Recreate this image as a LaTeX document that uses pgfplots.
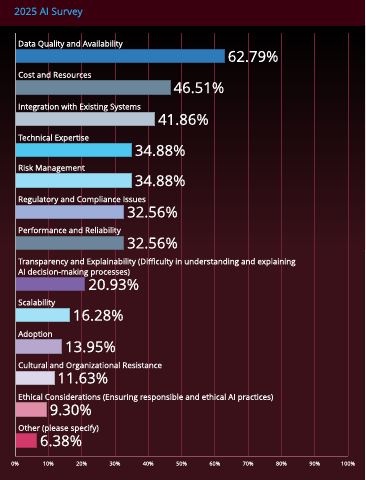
\documentclass[border=0pt]{standalone}
\usepackage{pgfplots}
\pgfplotsset{compat=1.18}
\usepackage{fontspec}
\setmainfont{Open Sans}
\newfontfamily\semib{Open Sans}[FakeBold=0.9]
\newfontfamily\medf{Open Sans}[FakeBold=0.4]
\definecolor{titlebar}{HTML}{3B0010}
\definecolor{bgm}{HTML}{3A1119}
\definecolor{gridc}{HTML}{72213C}
\definecolor{titlec}{HTML}{2A9FD8}
\definecolor{c1}{HTML}{2E7BBA}
\definecolor{c2}{HTML}{6A879C}
\definecolor{c3}{HTML}{B5C4D2}
\definecolor{c4}{HTML}{4DC6F0}
\definecolor{c5}{HTML}{98DDF6}
\definecolor{c6}{HTML}{9DAEDB}
\definecolor{c7}{HTML}{6C859A}
\definecolor{c8}{HTML}{7F63A8}
\definecolor{c9}{HTML}{A3E1F6}
\definecolor{c10}{HTML}{B6A7CF}
\definecolor{c11}{HTML}{DDD8E9}
\definecolor{c12}{HTML}{E08DAA}
\definecolor{c13}{HTML}{D2396B}
\begin{document}
\begin{tikzpicture}[x=1pt,y=1pt]
\fill[bgm] (0,0) rectangle (365,480);
\shade[top color=black, bottom color=bgm] (0,230) rectangle (365,454);
\fill[titlebar] (0,454) rectangle (365,480);
\node[anchor=west, inner sep=0, text=titlec, font=\semib\fontsize{10}{12}\selectfont] at (14,467.5) {2025 AI Survey};
\begin{axis}[
  at={(15pt,24pt)}, anchor=south west,
  scale only axis, width=333pt, height=423pt,
  xmin=0, xmax=100, ymin=33, ymax=456, y dir=reverse,
  xbar, bar width=13.3,
  axis line style={draw=none},
  ytick=\empty,
  xtick={0,10,...,100},
  xticklabel={\pgfmathprintnumber{\tick}\%},
  xticklabel style={text=white!80!gray, font=\semib\fontsize{5.5}{6}\selectfont, yshift=-2pt},
  /pgf/number format/assume math mode=true,
  major tick length=0pt,
  xmajorgrids, grid style={gridc, line width=0.8pt},
  point meta=x,
  nodes near coords={\pgfmathprintnumber[fixed,fixed zerofill,precision=2]{\pgfplotspointmeta}\%},
  nodes near coords style={text=white, font=\medf\fontsize{15}{15}\selectfont, inner xsep=3.5pt, anchor=west, yshift=-0.5pt},
  clip=false,
]
\addplot[fill=c1, draw=c1!80!black, bar shift=0pt] coordinates {(62.79,56)};
\addplot[fill=c2, draw=c2!80!black, bar shift=0pt] coordinates {(46.51,87.2)};
\addplot[fill=c3, draw=c3!80!black, bar shift=0pt] coordinates {(41.86,119)};
\addplot[fill=c4, draw=c4!80!black, bar shift=0pt] coordinates {(34.88,150)};
\addplot[fill=c5, draw=c5!80!black, bar shift=0pt] coordinates {(34.88,180.2)};
\addplot[fill=c6, draw=c6!80!black, bar shift=0pt] coordinates {(32.56,211.6)};
\addplot[fill=c7, draw=c7!80!black, bar shift=0pt] coordinates {(32.56,242.6)};
\addplot[fill=c8, draw=c8!80!black, bar shift=0pt] coordinates {(20.93,284)};
\addplot[fill=c9, draw=c9!80!black, bar shift=0pt] coordinates {(16.28,314.8)};
\addplot[fill=c10, draw=c10!80!black, bar shift=0pt] coordinates {(13.95,346.3)};
\addplot[fill=c11, draw=c11!80!black, bar shift=0pt] coordinates {(11.63,377.6)};
\addplot[fill=c12, draw=c12!80!black, bar shift=0pt] coordinates {(9.30,409.3)};
\addplot[fill=c13, draw=c13!80!black, bar shift=0pt] coordinates {(6.38,440.3)};
\draw[gray!70, line width=0.9pt] (axis cs:0,33) -- (axis cs:0,456);
\draw[gridc!80!white, line width=0.6pt] (axis cs:0,456) -- (axis cs:100,456);
\tikzset{cat/.style={anchor=base west, inner sep=0, text=white!94!gray, font=\semib\fontsize{8}{8.6}\selectfont, align=left}}
\node[cat] at (axis cs:0.9,46.5) {Data Quality and Availability};
\node[cat] at (axis cs:0.9,77.7) {Cost and Resources};
\node[cat] at (axis cs:0.9,109.5) {Integration with Existing Systems};
\node[cat] at (axis cs:0.9,140.5) {Technical Expertise};
\node[cat] at (axis cs:0.9,170.7) {Risk Management};
\node[cat] at (axis cs:0.9,202.1) {Regulatory and Compliance Issues};
\node[cat] at (axis cs:0.9,233.1) {Performance and Reliability};
\node[cat] at (axis cs:0.9,264.3) {Transparency and Explainability (Difficulty in understanding and explaining};
\node[cat] at (axis cs:0.9,274.6) {AI decision-making processes)};
\node[cat] at (axis cs:0.9,305.3) {Scalability};
\node[cat] at (axis cs:0.9,336.8) {Adoption};
\node[cat] at (axis cs:0.9,368.1) {Cultural and Organizational Resistance};
\node[cat] at (axis cs:0.9,399.8) {Ethical Considerations (Ensuring responsible and ethical AI practices)};
\node[cat] at (axis cs:0.9,430.8) {Other (please specify)};
\end{axis}
\pgfresetboundingbox
\useasboundingbox (0,0) rectangle (365,480);
\end{tikzpicture}
\end{document}
